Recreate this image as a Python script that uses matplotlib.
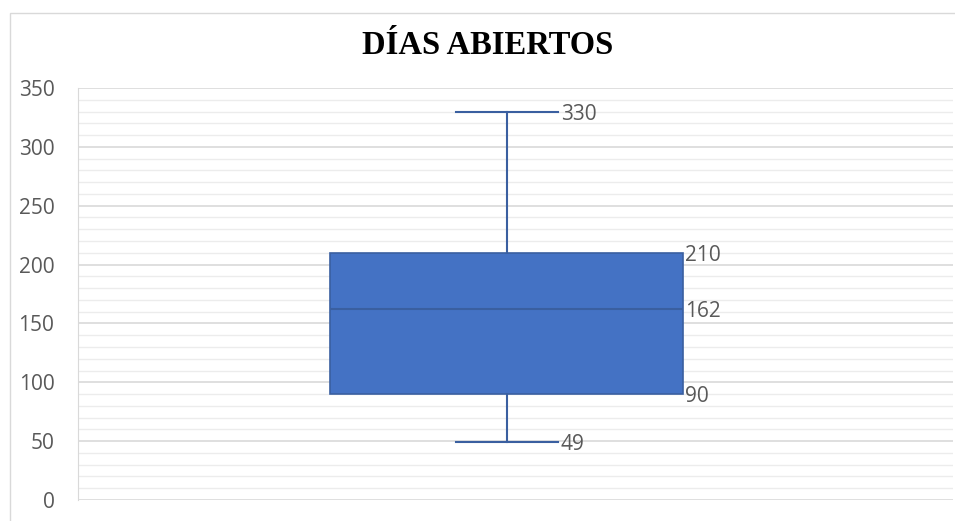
import matplotlib
matplotlib.use("Agg")
import matplotlib.pyplot as plt
from matplotlib.patches import Rectangle
from matplotlib.ticker import MultipleLocator

# Five-number summary for open days
title = "DÍAS ABIERTOS"
whisker_low = 49
q1 = 90
median = 162
q3 = 210
whisker_high = 330
y_ticks = [0, 50, 100, 150, 200, 250, 300, 350]

fill_color = "#4472C4"
edge_color = "#3A5FA0"
text_color = "#595959"

fig = plt.figure(figsize=(9.55, 5.21), dpi=100)
ax = fig.add_axes([78 / 955, 21 / 521, 875 / 955, 412 / 521])

# chart frame
fig.patches.append(Rectangle((9.5 / 955, -0.05), 1.2, (521 - 12.5) / 521 + 0.05,
                             transform=fig.transFigure, fill=False,
                             edgecolor="#d9d9d9", linewidth=1.0))

stats = [dict(whislo=whisker_low, q1=q1, med=median, q3=q3,
              whishi=whisker_high, fliers=[])]
ax.bxp(stats, positions=[1], widths=0.403, capwidths=0.117,
       patch_artist=True, showfliers=False,
       boxprops=dict(facecolor=fill_color, edgecolor=edge_color, linewidth=1.2),
       medianprops=dict(color=edge_color, linewidth=1.5),
       whiskerprops=dict(color=edge_color, linewidth=1.5),
       capprops=dict(color=edge_color, linewidth=1.5),
       zorder=3)

ax.set_xlim(0.51, 1.51)
ax.set_ylim(0, 350)
ax.set_yticks(y_ticks)
ax.yaxis.set_minor_locator(MultipleLocator(10))
ax.grid(True, which="major", axis="y", color="#d9d9d9", linewidth=1.2, zorder=0)
ax.grid(True, which="minor", axis="y", color="#ececec", linewidth=1.0, zorder=0)
ax.set_axisbelow(True)
ax.set_xticks([])
for side in ["top", "right", "bottom"]:
    ax.spines[side].set_visible(False)
ax.spines["left"].set_color("#d9d9d9")
ax.tick_params(axis="y", which="both", length=0, pad=17,
               labelsize=15, labelcolor=text_color)
for lbl in ax.get_yticklabels():
    lbl.set_family(["Open Sans", "DejaVu Sans"])

# value labels
label_font = dict(fontsize=15, color=text_color, va="center_baseline", ha="left",
                  family=["Open Sans", "DejaVu Sans"])
cap_right = 1 + 0.117 / 2
box_right = 1 + 0.403 / 2
ax.text(cap_right + 0.003, whisker_high, f"{whisker_high}", **label_font)
ax.text(cap_right + 0.003, whisker_low, f"{whisker_low}", **label_font)
for v in (q3, median, q1):
    ax.text(box_right + 0.002, v, f"{v}", **label_font)

fig.text(488 / 955, 1 - 45 / 521, title, ha="center", va="center",
         fontsize=23.5, fontweight="bold", family="Liberation Serif", color="black")

fig.savefig("out.png", dpi=100)
